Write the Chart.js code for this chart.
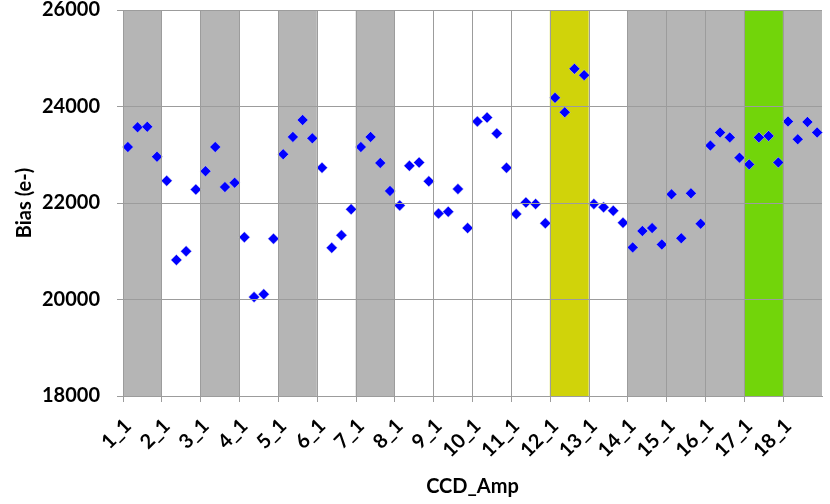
<!DOCTYPE html>
<html>
<head>
<meta charset="utf-8">
<script src="https://cdn.jsdelivr.net/npm/chart.js@4/dist/chart.umd.min.js"></script>
<style>
  html, body { margin: 0; padding: 0; background: #fff; }
  canvas { display: block; }
</style>
</head>
<body>
<canvas id="biasChart" width="830" height="504"></canvas>
<script>
// ── Data ──
const ccdNames = ['1', '2', '3', '4', '5', '6', '7', '8', '9', '10', '11', '12', '13', '14', '15', '16', '17', '18'];
const ampNames = ['1', '2', '3', '4'];
const biasValues = [
  23160, 23570, 23580, 22960,
  22460, 20820, 21000, 22280,
  22660, 23160, 22330, 22420,
  21290, 20050, 20110, 21260,
  23010, 23370, 23720, 23340,
  22730, 21070, 21330, 21870,
  23160, 23370, 22830, 22250,
  21950, 22770, 22840, 22450,
  21780, 21820, 22290, 21480,
  23690, 23770, 23440, 22730,
  21770, 22010, 21980, 21580,
  24180, 23880, 24780, 24650,
  21980, 21910, 21840, 21590,
  21080, 21420, 21480, 21140,
  22180, 21270, 22200, 21570,
  23190, 23460, 23360, 22940,
  22800, 23360, 23390, 22840,
  23690, 23320, 23680, 23460
];
// which group each CCD band belongs to
const ccdGroups = ['a', 'b', 'a', 'b', 'a', 'b', 'a', 'b', 'b', 'b', 'b', 'c', 'b', 'a', 'a', 'a', 'd', 'a'];
const yMin = 18000;
const yMax = 26000;
const yStep = 2000;

// ── Styles ──
const groupColors = { a: '#b5b5b5', b: '#ffffff', c: '#d0d30a', d: '#72d50a' };
const gridColor = '#9c9c9c';
const axisFont = { family: 'Lato', size: 20, weight: 'bold' };

const ampLabels = ccdNames.flatMap(c => ampNames.map(a => c + '_' + a));
const bandLabels = ccdNames.map(c => c + '_1');

new Chart(document.getElementById('biasChart'), {
  type: 'bar',
  data: {
    labels: ampLabels,
    datasets: [{
      type: 'line',
      data: biasValues,
      showLine: false,
      pointStyle: 'rectRot',
      pointRadius: 5.5,
      pointBackgroundColor: '#0000ff',
      pointBorderColor: 'rgba(220,220,235,0.9)',
      pointBorderWidth: 0.5,
      borderColor: '#0000ff',
      xAxisID: 'x',
      order: 0
    }, {
      type: 'bar',
      data: bandLabels.map(() => [yMin, yMax]),
      backgroundColor: ccdGroups.map(g => groupColors[g]),
      borderWidth: 0,
      grouped: false,
      barPercentage: 1,
      categoryPercentage: 1,
      xAxisID: 'xBand',
      order: 1
    }]
  },
  options: {
    responsive: false,
    animation: false,
    layout: { padding: { top: 10, right: 8 } },
    plugins: { legend: { display: false }, tooltip: { enabled: false } },
    scales: {
      x: {
        type: 'category',
        offset: true,
        grid: {
          z: 1,
          offset: true,
          color: ctx => (ctx.index % 4 === 0 ? gridColor : 'rgba(0,0,0,0)'),
          tickLength: 6
        },
        border: { color: gridColor, z: 1 },
        ticks: {
          autoSkip: false,
          minRotation: 45,
          maxRotation: 45,
          padding: 12,
          color: '#000',
          font: axisFont,
          callback: (v, i) => (i % 4 === 0 ? ampLabels[i] : '')
        },
        title: {
          display: true,
          text: 'CCD_Amp',
          color: '#000',
          font: axisFont,
          padding: { top: 0, bottom: 5 }
        },
        afterFit: s => {
          s.height = 108;
          s.paddingLeft = 0;
          s.paddingRight = 0;
        }
      },
      xBand: {
        type: 'category',
        labels: bandLabels,
        offset: true,
        display: false
      },
      y: {
        min: yMin,
        max: yMax,
        grid: { z: 1, color: gridColor, tickLength: 6 },
        border: { color: gridColor, z: 1 },
        ticks: {
          stepSize: yStep,
          padding: 17,
          color: '#000',
          font: axisFont,
          callback: v => String(v)
        },
        title: {
          display: true,
          text: 'Bias (e-)',
          color: '#000',
          font: axisFont,
          padding: { top: 13, bottom: 0 }
        },
        afterFit: s => {
          s.width = 123;
          s.paddingTop = 0;
          s.paddingBottom = 0;
        }
      }
    }
  }
});
</script>
</body>
</html>
